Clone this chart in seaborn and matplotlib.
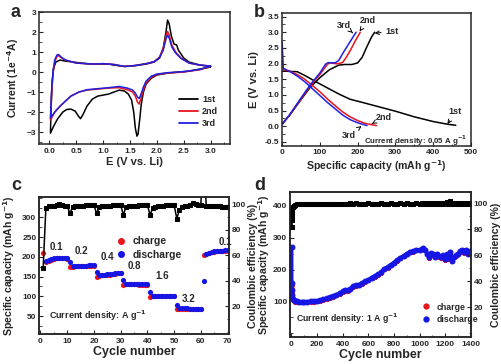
import numpy as np
import pandas as pd
import matplotlib
matplotlib.use("Agg")
import matplotlib.pyplot as plt
from matplotlib.ticker import AutoMinorLocator
from matplotlib.lines import Line2D
import seaborn as sns

# ---------------- data ----------------
# (a) cyclic voltammetry, each loop: cathodic sweep 3.0 -> 0 V then anodic back to 3.0 V
cv1_e = [3.0, 2.8, 2.6, 2.4, 2.2, 2.0, 1.9, 1.8, 1.75, 1.71, 1.68, 1.65, 1.63, 1.6, 1.57, 1.53, 1.47, 1.4,
         1.3, 1.2, 1.1, 1.0, 0.9, 0.8, 0.7, 0.63, 0.58, 0.54, 0.48, 0.4, 0.32, 0.25, 0.15, 0.08, 0.02,
         0.03, 0.05, 0.08, 0.12, 0.2, 0.3, 0.5, 0.7, 0.9, 1.1, 1.2, 1.4, 1.6, 1.8, 1.95, 2.05, 2.12, 2.17,
         2.2, 2.23, 2.27, 2.32, 2.37, 2.4, 2.5, 2.6, 2.8, 3.0]
cv1_i = [0.25, 0.15, 0.05, 0.0, -0.05, -0.15, -0.3, -0.6, -1.0, -1.6, -2.4, -3.1, -3.2, -2.8, -2.0, -1.4, -1.1, -0.95,
         -0.9, -1.0, -1.1, -1.15, -1.2, -1.35, -1.7, -2.1, -2.33, -2.2, -1.95, -1.85, -1.87, -2.0, -2.35, -2.7, -3.05,
         -2.0, -0.5, 0.2, 0.5, 0.6, 0.55, 0.48, 0.42, 0.4, 0.4, 0.35, 0.28, 0.32, 0.4, 0.5, 0.7, 1.2, 2.0,
         2.6, 2.4, 1.8, 1.4, 1.35, 1.1, 0.7, 0.5, 0.35, 0.28]
cv2_e = [3.0, 2.8, 2.5, 2.2, 2.0, 1.9, 1.8, 1.75, 1.7, 1.67, 1.64, 1.6, 1.55, 1.45, 1.3, 1.1, 0.9, 0.7, 0.55,
         0.4, 0.3, 0.2, 0.1, 0.02,
         0.04, 0.07, 0.1, 0.14, 0.17, 0.22, 0.3, 0.5, 0.8, 1.0, 1.2, 1.4, 1.6, 1.8, 1.95, 2.05, 2.12, 2.17,
         2.2, 2.23, 2.28, 2.35, 2.45, 2.6, 2.8, 3.0]
cv2_i = [0.28, 0.12, 0.0, -0.05, -0.12, -0.25, -0.55, -0.9, -1.35, -1.6, -1.5, -1.2, -1.0, -0.88, -0.78, -0.8, -0.85, -0.9, -1.0,
         -1.2, -1.45, -1.7, -2.0, -2.4,
         -1.2, 0.0, 0.5, 0.78, 0.82, 0.72, 0.6, 0.45, 0.4, 0.42, 0.38, 0.28, 0.33, 0.42, 0.52, 0.75, 1.2, 1.8,
         2.03, 1.85, 1.35, 1.0, 0.7, 0.45, 0.35, 0.3]
cv3_e = [3.0, 2.8, 2.5, 2.2, 2.0, 1.9, 1.8, 1.75, 1.7, 1.67, 1.64, 1.6, 1.55, 1.45, 1.3, 1.1, 0.9, 0.7, 0.55,
         0.4, 0.3, 0.2, 0.1, 0.02,
         0.04, 0.07, 0.1, 0.14, 0.17, 0.22, 0.3, 0.5, 0.8, 1.0, 1.2, 1.4, 1.6, 1.8, 1.95, 2.05, 2.12, 2.17,
         2.2, 2.23, 2.28, 2.35, 2.45, 2.6, 2.8, 3.0]
cv3_i = [0.3, 0.13, 0.02, -0.03, -0.1, -0.2, -0.45, -0.75, -1.15, -1.32, -1.25, -1.05, -0.9, -0.8, -0.72, -0.78, -0.83, -0.88, -1.0,
         -1.2, -1.45, -1.7, -2.0, -2.3,
         -1.0, 0.1, 0.6, 0.85, 0.88, 0.75, 0.6, 0.45, 0.4, 0.42, 0.38, 0.28, 0.33, 0.42, 0.52, 0.72, 1.1, 1.65,
         1.85, 1.7, 1.25, 0.95, 0.68, 0.45, 0.35, 0.3]

# (b) galvanostatic discharge / charge profiles
b_dis1_cap = [0, 40, 60, 100, 150, 180, 200, 250, 300, 350, 400, 440, 460]
b_dis1_v = [1.76, 1.74, 1.62, 1.35, 1.03, 0.86, 0.8, 0.64, 0.48, 0.3, 0.15, 0.06, 0.03]
b_dis2_cap = [0, 3, 20, 40, 60, 80, 100, 120, 140, 160, 180, 200, 220, 250]
b_dis2_v = [2.2, 1.8, 1.76, 1.65, 1.5, 1.3, 1.1, 0.87, 0.66, 0.46, 0.3, 0.18, 0.09, 0.02]
b_dis3_cap = [0, 3, 20, 40, 60, 80, 100, 120, 140, 160, 180, 200, 225]
b_dis3_v = [2.7, 1.85, 1.75, 1.6, 1.42, 1.2, 0.98, 0.76, 0.56, 0.36, 0.21, 0.11, 0.02]
b_chg1_cap = [0, 20, 50, 75, 100, 125, 150, 165, 185, 200, 212, 225, 237, 245]
b_chg1_v = [0.08, 0.35, 0.85, 1.25, 1.55, 1.8, 1.95, 1.97, 1.97, 2.02, 2.2, 2.55, 2.85, 3.0]
b_chg2_cap = [0, 20, 50, 75, 100, 120, 128, 145, 160, 170, 182, 195, 207]
b_chg2_v = [0.06, 0.36, 0.87, 1.3, 1.65, 1.98, 2.02, 1.99, 2.03, 2.2, 2.45, 2.75, 3.0]
b_chg3_cap = [0, 20, 50, 75, 100, 115, 122, 140, 150, 162, 175, 188, 196]
b_chg3_v = [0.05, 0.37, 0.9, 1.33, 1.7, 1.98, 2.03, 2.02, 2.1, 2.35, 2.6, 2.85, 3.0]

# (c) rate capability, cycles 1-70
c_cycle = list(range(1, 71))
c_charge = [210, 188, 190, 192, 194, 196, 197, 197, 196, 195,
            174, 175, 176, 176, 177, 177, 177, 178, 178, 178,
            150, 152, 153, 154, 155, 155, 156, 157, 158, 158,
            129, 130, 130, 130, 130, 130, 129, 129, 129, 129,
            98, 101, 101, 101, 101, 101, 101, 101, 100, 100,
            67, 69, 69, 69, 69, 68, 68, 68, 68, 68,
            205, 207, 210, 212, 213, 214, 215, 215, 216, 216]
c_discharge = [420, 190, 192, 194, 196, 198, 198, 198, 197, 196,
               187, 176, 177, 177, 178, 178, 178, 179, 179, 179,
               162, 153, 154, 155, 156, 156, 157, 158, 159, 159,
               142, 131, 131, 131, 131, 131, 130, 130, 130, 130,
               111, 102, 102, 102, 102, 102, 102, 101, 101, 101,
               79, 70, 70, 70, 70, 69, 69, 69, 69, 69,
               140, 208, 211, 213, 214, 215, 216, 216, 217, 217]
c_ce = [50, 97, 98.5, 98.5, 99, 100, 100.5, 99.5, 99, 99,
        93, 98, 99, 99, 99, 99, 99.5, 99.5, 99.5, 99.5,
        93, 98, 99, 99, 99, 99, 99.5, 99.5, 99.5, 99.5,
        92, 98, 99, 99, 99, 99, 99.5, 99.5, 99.5, 99.5,
        92, 97, 98, 99, 99, 99, 99.5, 99.5, 99.5, 99.5,
        89, 96, 98, 98.5, 99, 100, 101, 100.5, 100, 100,
        146, 99, 99, 98.5, 98.5, 98.5, 98.5, 98, 98, 98]
c_rate_labels = ["0.1", "0.2", "0.4", "0.8", "1.6", "3.2", "0.1"]

# (d) long cycling at 1 A/g
d_cycle = [1, 2, 3, 5, 8, 12, 20, 30, 45, 60, 80, 100, 125, 150, 175, 200, 225, 250, 275, 300,
           325, 350, 375, 400, 420, 440, 460, 480, 500, 525, 550, 575, 600, 625, 650, 675, 700, 725,
           750, 775, 800, 825, 850, 875, 900, 925, 950, 975, 1000, 1015, 1030, 1045, 1060, 1075, 1090,
           1105, 1120, 1135, 1150, 1165, 1180, 1195, 1210, 1225, 1240, 1255, 1270, 1285, 1300, 1315,
           1330, 1345, 1360, 1375, 1390, 1400]
d_discharge = [270, 157, 135, 120, 112, 107, 104, 102, 100, 99, 99, 99, 99, 100, 100, 102, 104, 107, 110, 113,
               117, 121, 126, 132, 136, 135, 140, 148, 150, 152, 158, 163, 168, 175, 180, 185, 192, 203,
               208, 215, 222, 230, 237, 243, 250, 256, 258, 262, 262, 265, 268, 262, 250, 238, 252,
               248, 240, 250, 242, 238, 245, 232, 248, 236, 256, 228, 240, 245, 250, 258,
               262, 255, 262, 250, 258, 252]
d_charge = [150, 140, 125, 114, 108, 104, 101, 99, 98, 97, 97, 97, 97, 98, 98, 100, 102, 105, 108, 111,
            115, 119, 124, 130, 134, 133, 138, 146, 148, 150, 156, 161, 166, 173, 178, 183, 190, 201,
            206, 213, 220, 228, 235, 241, 248, 254, 256, 260, 260, 263, 266, 260, 248, 236, 250,
            246, 238, 248, 240, 236, 243, 230, 246, 234, 254, 226, 238, 243, 248, 256,
            260, 253, 260, 248, 256, 250]
d_ce = [82, 87, 90, 93, 95.5, 97, 98.3, 99, 99.3, 99.5, 99.6, 99.5, 99.8, 99.6, 99.7, 99.5, 99.8, 99.6, 99.7, 99.9,
        99.6, 99.8, 99.7, 99.9, 99.6, 99.8, 100.2, 99.7, 100.4, 99.8, 99.6, 99.9, 100.1, 99.6, 99.9, 99.7, 100.2, 99.8,
        99.5, 100.3, 99.7, 99.8, 100.1, 99.6, 100.4, 99.7, 99.9, 100.2, 99.5, 100.6, 99.8, 100.1, 99.6, 100.3, 99.7,
        100.5, 99.4, 100.2, 99.8, 100.6, 99.5, 100.1, 100.8, 99.6, 102.0, 99.4, 100.3, 99.8, 100.5, 99.6,
        100.2, 99.7, 100.6, 99.5, 100.1, 99.8]

# ---------------- style ----------------
sns.set_style("ticks")
plt.rcParams["font.family"] = ["Liberation Sans", "DejaVu Sans"]
plt.rcParams["font.weight"] = "bold"
plt.rcParams["axes.labelweight"] = "bold"
plt.rcParams["mathtext.default"] = "bf"
plt.rcParams["xtick.direction"] = "in"
plt.rcParams["ytick.direction"] = "in"
plt.rcParams["axes.linewidth"] = 1.1
plt.rcParams["xtick.labelsize"] = 6
plt.rcParams["ytick.labelsize"] = 6
plt.rcParams["xtick.major.size"] = 3
plt.rcParams["ytick.major.size"] = 3
plt.rcParams["xtick.minor.size"] = 1.8
plt.rcParams["ytick.minor.size"] = 1.8
plt.rcParams["xtick.major.pad"] = 2.5
plt.rcParams["ytick.major.pad"] = 2

LAB = 7.6
fig = plt.figure(figsize=(5.02, 3.64), dpi=100)
ax_a = fig.add_axes([0.078, 0.604, 0.380, 0.363])
ax_b = fig.add_axes([0.562, 0.599, 0.376, 0.365])
ax_c = fig.add_axes([0.078, 0.082, 0.378, 0.377])
ax_d = fig.add_axes([0.578, 0.074, 0.360, 0.399])

cyc_colors = ["black", "#e8141c", "#2020e0"]

# ---------------- (a) ----------------
cv = pd.concat([
    pd.DataFrame({"E": cv1_e, "I": cv1_i, "cycle": "1st"}),
    pd.DataFrame({"E": cv2_e, "I": cv2_i, "cycle": "2nd"}),
    pd.DataFrame({"E": cv3_e, "I": cv3_i, "cycle": "3rd"}),
])
sns.lineplot(data=cv, x="E", y="I", hue="cycle", palette=cyc_colors, sort=False, estimator=None,
             lw=1.1, ax=ax_a, legend=False)
ax_a.set_xlim(-0.19, 3.36)
ax_a.set_ylim(-3.6, 3.0)
ax_a.set_xticks(np.arange(0, 3.01, 0.5))
ax_a.set_yticks(range(-3, 4))
ax_a.set_xticklabels(["0.0", "0.5", "1.0", "1.5", "2.0", "2.5", "3.0"])
ax_a.set_xlabel("E (V vs. Li)", fontsize=LAB + 0.4, labelpad=1.5)
ax_a.set_ylabel("Current (1e$^{-4}$A)", fontsize=LAB, labelpad=4)
hs = [Line2D([], [], color=c, lw=1.3) for c in cyc_colors]
ax_a.legend(hs, ["1st", "2nd", "3rd"], loc="lower right", bbox_to_anchor=(0.98, 0.06), frameon=False,
            prop={"weight": "bold", "size": 6.5}, handlelength=2.2, labelspacing=0.35, handletextpad=0.4)

# ---------------- (b) ----------------
for cap, v, col in [(b_dis1_cap, b_dis1_v, cyc_colors[0]), (b_chg1_cap, b_chg1_v, cyc_colors[0]),
                    (b_dis2_cap, b_dis2_v, cyc_colors[1]), (b_chg2_cap, b_chg2_v, cyc_colors[1]),
                    (b_dis3_cap, b_dis3_v, cyc_colors[2]), (b_chg3_cap, b_chg3_v, cyc_colors[2])]:
    sns.lineplot(x=cap, y=v, color=col, sort=False, estimator=None, lw=1.1, ax=ax_b)
ax_b.set_xlim(0, 500)
ax_b.set_ylim(-0.63, 3.61)
ax_b.set_xticks(range(0, 501, 100))
ax_b.set_yticks(np.arange(-0.5, 3.51, 0.5))
ax_b.set_yticklabels(["-0.5", "0.0", "0.5", "1.0", "1.5", "2.0", "2.5", "3.0", "3.5"])
ax_b.set_xlabel("Specific capacity (mAh g$^{-1}$)", fontsize=LAB, labelpad=1.5)
ax_b.set_ylabel("E (V vs. Li)", fontsize=LAB + 0.4, labelpad=4)
arr = dict(arrowstyle="->", lw=0.7, color="black", shrinkA=1, shrinkB=0)
for txt, xy, xyt in [("3rd", (187, 2.98), (163, 3.23)), ("2nd", (205, 3.03), (226, 3.37)),
                     ("1st", (245, 2.97), (292, 3.02)), ("1st", (438, 0.07), (459, 0.46)),
                     ("2nd", (238, 0.08), (268, 0.28)), ("3rd", (210, 0.0), (177, -0.29))]:
    ax_b.annotate(txt, xy=xy, xytext=xyt, fontsize=6.5, fontweight="bold", ha="center", va="center",
                  arrowprops=arr)
ax_b.text(490, -0.47, "Current density: 0.05 A g$^{-1}$", fontsize=5.7, ha="right", va="center")

# ---------------- (c) ----------------
ax_c2 = ax_c.twinx()
sns.scatterplot(x=c_cycle, y=c_charge, color="#e8141c", s=14, linewidth=0, ax=ax_c, zorder=3)
sns.scatterplot(x=c_cycle, y=c_discharge, color="#1515e6", s=14, linewidth=0, ax=ax_c, zorder=4)
sns.lineplot(x=c_cycle, y=c_ce, color="black", marker="s", ms=3, mec="black", lw=1.1, ax=ax_c2)
ax_c.set_xlim(-0.5, 70.5)
ax_c.set_ylim(4, 352)
ax_c2.set_ylim(-2, 106)
ax_c.set_xticks(range(0, 71, 10))
ax_c.set_yticks(range(50, 301, 50))
ax_c2.set_yticks(range(20, 101, 20))
ax_c.set_xlabel("Cycle number", fontsize=9, labelpad=1)
ax_c.set_ylabel("Specific capacity (mAh g$^{-1}$)", fontsize=LAB, labelpad=4)
ax_c2.set_ylabel("Coulombic efficiency (%)", fontsize=LAB, labelpad=1.5)
for lab, (x, y) in zip(c_rate_labels, [(6, 224), (15.3, 214), (25, 199), (35.3, 177),
                                        (45.5, 152), (55.6, 92), (69.3, 237)]):
    ax_c.text(x, y, lab, fontsize=7, ha="center", va="center")
ax_c.text(3.3, 50, "Current density: A g$^{-1}$", fontsize=6.5, ha="left", va="center")
hs = [Line2D([], [], ls="", marker="o", ms=4, color="#e8141c"),
      Line2D([], [], ls="", marker="o", ms=4, color="#1515e6")]
ax_c.legend(hs, ["charge", "discharge"], loc="upper left", bbox_to_anchor=(0.34, 0.765), frameon=False,
            prop={"weight": "bold", "size": 7.5}, handletextpad=0.1, labelspacing=0.3, borderpad=0.2)

# ---------------- (d) ----------------
ax_d2 = ax_d.twinx()
sns.lineplot(x=d_cycle, y=d_charge, color="#e8141c", marker="o", ms=3, mec="#e8141c", lw=2.2, ax=ax_d, zorder=3)
sns.lineplot(x=d_cycle, y=d_discharge, color="#1515e6", marker="o", ms=3.5, mec="#1515e6", lw=2.6, ax=ax_d, zorder=4)
sns.lineplot(x=d_cycle, y=d_ce, color="black", marker="s", ms=2.6, mec="black", lw=1.8, ax=ax_d2)
ax_d.set_xlim(-10, 1400)
ax_d.set_ylim(-12, 444)
ax_d2.set_ylim(-3, 109)
ax_d.set_xticks(range(0, 1401, 200))
ax_d.set_yticks(range(100, 401, 100))
ax_d2.set_yticks(range(20, 101, 20))
ax_d.set_xlabel("Cycle number", fontsize=9, labelpad=1)
ax_d.set_ylabel("Specific capacity (mAh g$^{-1}$)", fontsize=LAB, labelpad=0.5)
ax_d2.set_ylabel("Coulombic efficiency (%)", fontsize=LAB, labelpad=2)
ax_d.text(39, 45, "Current density: 1 A g$^{-1}$", fontsize=6.3, ha="left", va="center")
hs = [Line2D([], [], ls="", marker="o", ms=3.5, color="#e8141c"),
      Line2D([], [], ls="", marker="o", ms=3.5, color="#1515e6")]
ax_d.legend(hs, ["charge", "discharge"], loc="upper left", bbox_to_anchor=(0.67, 0.28), frameon=False,
            prop={"weight": "bold", "size": 6.3}, handletextpad=0.2, labelspacing=0.4, borderpad=0.2)

for ax in [ax_a, ax_b, ax_c, ax_d]:
    ax.xaxis.set_minor_locator(AutoMinorLocator(2))
    ax.yaxis.set_minor_locator(AutoMinorLocator(2))
for ax in [ax_c2, ax_d2]:
    ax.yaxis.set_minor_locator(AutoMinorLocator(2))
    ax.tick_params(axis="y", which="both", direction="in")

for lab, x, y in [("a", 0.02, 0.965), ("b", 0.505, 0.965), ("c", 0.022, 0.49), ("d", 0.507, 0.49)]:
    fig.text(x, y, lab, fontsize=13, fontweight="bold", ha="left", va="center")

fig.savefig("out.png", dpi=100)
